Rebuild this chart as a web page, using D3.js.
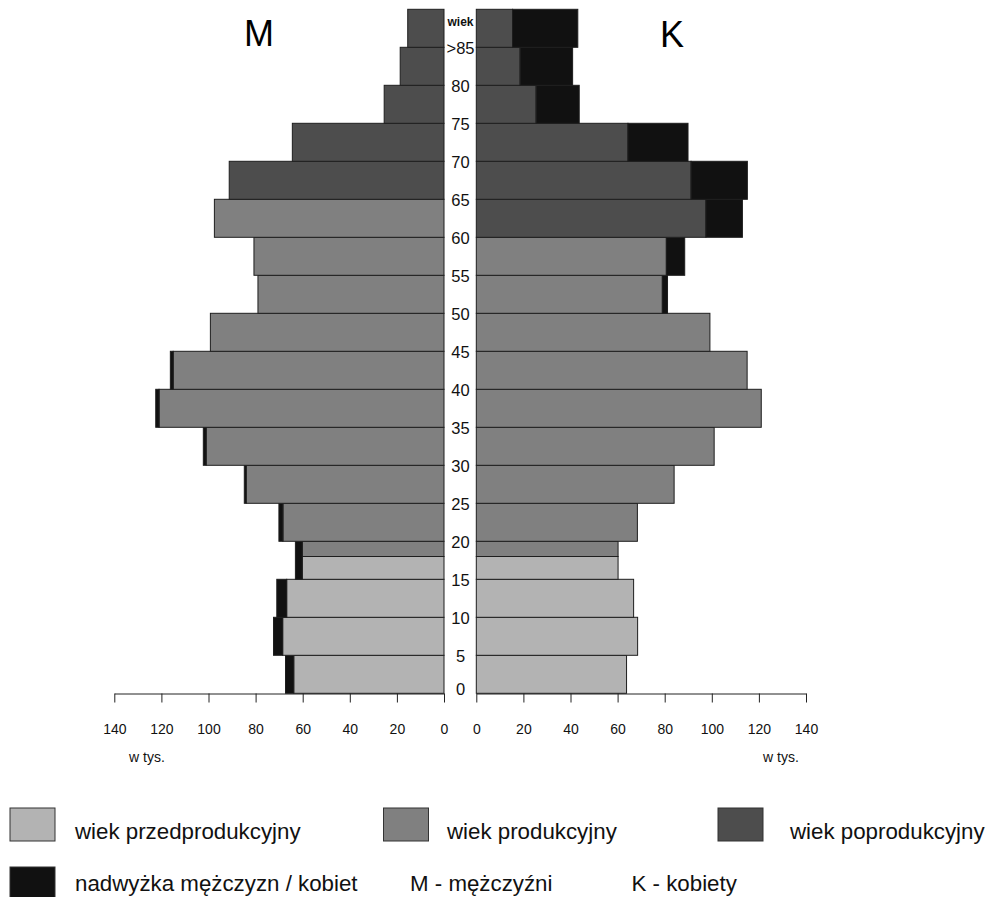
<!DOCTYPE html>
<html>
<head>
<meta charset="utf-8">
<script src="https://cdn.jsdelivr.net/npm/d3@7"></script>
<style>
  html, body { margin: 0; padding: 0; background: #fff; }
  svg { display: block; font-family: "Liberation Sans", Arial, Helvetica, sans-serif; }
</style>
</head>
<body>
<svg id="chart" width="991" height="897"></svg>
<script>
// ---- data (thousands of people) ----
const bandStart = [0, 5, 10, 15, 20, 25, 30, 35, 40, 45, 50, 55, 60, 65, 70, 75, 80, 85];
const male   = [67.3, 72.4, 71.0, 63.1, 70.1, 84.8, 102.2, 122.4, 116.2, 99.2, 79.0, 80.7, 97.5, 91.2, 64.4, 25.4, 18.6, 15.4];
const female = [63.8, 68.5, 66.8, 60.2, 68.4, 84.0, 101.0, 121.0, 115.0, 99.2, 81.2, 88.5, 113.0, 115.1, 89.9, 43.7, 40.9, 43.1];
const ageTickValues = [0, 5, 10, 15, 20, 25, 30, 35, 40, 45, 50, 55, 60, 65, 70, 75, 80, 85, 90];
const ageTickLabels = ["0", "5", "10", "15", "20", "25", "30", "35", "40", "45", "50", "55", "60", "65", "70", "75", "80", ">85", "wiek"];
const axisTicks = [0, 20, 40, 60, 80, 100, 120, 140];
// working-age boundaries (pre-productive < 18, post-productive >= 65 men / >= 60 women)
const groupBoundsM = [18, 65];
const groupBoundsK = [18, 60];
const legendLabels = ["wiek przedprodukcyjny", "wiek produkcyjny", "wiek poprodukcyjny", "nadwyżka mężczyzn / kobiet"];
const noteLabels = ["M - mężczyźni", "K - kobiety"];
const sideLabels = ["M", "K"];

// ---- styles ----
const colors = ["#b3b3b3", "#808080", "#4d4d4d", "#111111"];
const strokeCol = "#1e1e1e";

const svg = d3.select("#chart");

const y = d3.scaleLinear().domain([0, 90]).range([693.3, 9.3]);
const xL = d3.scaleLinear().domain([0, 140]).range([444, 114.3]);
const xR = d3.scaleLinear().domain([0, 140]).range([476.3, 806]);

function segments(lo, hi, bounds) {
  const cuts = [lo];
  bounds.forEach(b => { if (b > lo && b < hi) cuts.push(b); });
  cuts.push(hi);
  const segs = [];
  for (let i = 0; i < cuts.length - 1; i++) {
    const a = cuts[i], b = cuts[i + 1];
    const g = a < bounds[0] ? 0 : (a < bounds[1] ? 1 : 2);
    segs.push({ a, b, g });
  }
  return segs;
}

const rects = [];
bandStart.forEach((s, i) => {
  const lo = s, hi = s + 5;
  const m = male[i], f = female[i];
  const base = Math.min(m, f);
  segments(lo, hi, groupBoundsM).forEach(sg => rects.push({ side: "M", x0: 0, x1: base, a: sg.a, b: sg.b, c: colors[sg.g] }));
  segments(lo, hi, groupBoundsK).forEach(sg => rects.push({ side: "K", x0: 0, x1: base, a: sg.a, b: sg.b, c: colors[sg.g] }));
  if (m > f) rects.push({ side: "M", x0: f, x1: m, a: lo, b: hi, c: colors[3] });
  if (f > m) rects.push({ side: "K", x0: m, x1: f, a: lo, b: hi, c: colors[3] });
});

svg.append("g").selectAll("rect").data(rects).join("rect")
  .attr("x", d => d.side === "M" ? xL(d.x1) : xR(d.x0))
  .attr("width", d => d.side === "M" ? xL(d.x0) - xL(d.x1) : xR(d.x1) - xR(d.x0))
  .attr("y", d => y(d.b))
  .attr("height", d => y(d.a) - y(d.b))
  .attr("fill", d => d.c)
  .attr("stroke", strokeCol)
  .attr("stroke-width", 1);

// age labels in the center column
svg.append("g").selectAll("text").data(ageTickValues).join("text")
  .attr("x", 460.5)
  .attr("y", (d, i) => y(d) + (d === 0 ? -4 : (d === 90 ? 12.5 : 1)))
  .attr("text-anchor", "middle")
  .attr("dominant-baseline", "central")
  .attr("font-size", (d, i) => d === 90 ? 12 : 16.5)
  .attr("font-weight", d => d === 90 ? "bold" : "normal")
  .attr("fill", "#111")
  .text((d, i) => ageTickLabels[i]);

// axes
function styleAxis(g) {
  g.selectAll("path").attr("stroke", "#222");
  g.selectAll("line").attr("stroke", "#222");
  g.selectAll("text").attr("font-size", 14).attr("fill", "#111")
    .attr("font-family", "\"Liberation Sans\", Arial, sans-serif");
}
svg.append("g").attr("transform", "translate(0,693.5)")
  .call(d3.axisBottom(xL).tickValues(axisTicks).tickSize(9).tickSizeOuter(0).tickPadding(22).tickFormat(d3.format("d")))
  .call(styleAxis);
svg.append("g").attr("transform", "translate(0,693.5)")
  .call(d3.axisBottom(xR).tickValues(axisTicks).tickSize(9).tickSizeOuter(0).tickPadding(22).tickFormat(d3.format("d")))
  .call(styleAxis);

svg.append("text").attr("x", 129).attr("y", 762).attr("font-size", 14).attr("fill", "#111").text("w tys.");
svg.append("text").attr("x", 763).attr("y", 762).attr("font-size", 14).attr("fill", "#111").text("w tys.");

// side labels
svg.append("text").attr("x", 259).attr("y", 46).attr("text-anchor", "middle").attr("font-size", 36).attr("fill", "#000").text(sideLabels[0]);
svg.append("text").attr("x", 672).attr("y", 46.5).attr("text-anchor", "middle").attr("font-size", 36).attr("fill", "#000").text(sideLabels[1]);

// legend
const legendPos = [
  { sx: 10, sy: 808, tx: 75, ty: 839 },
  { sx: 383.5, sy: 808, tx: 447, ty: 839 },
  { sx: 718, sy: 808, tx: 790, ty: 839 },
  { sx: 10, sy: 867, tx: 75, ty: 891 }
];
const lg = svg.append("g");
legendLabels.forEach((lab, i) => {
  const p = legendPos[i];
  lg.append("rect").attr("x", p.sx).attr("y", p.sy).attr("width", 45).attr("height", 33)
    .attr("fill", colors[i]).attr("stroke", "#333").attr("stroke-width", 1);
  lg.append("text").attr("x", p.tx).attr("y", p.ty).attr("font-size", 22.3).attr("fill", "#111").text(lab);
});
lg.append("text").attr("x", 410).attr("y", 891).attr("font-size", 22.3).attr("fill", "#111").text(noteLabels[0]);
lg.append("text").attr("x", 631.5).attr("y", 891).attr("font-size", 22.3).attr("fill", "#111").text(noteLabels[1]);
</script>
</body>
</html>
